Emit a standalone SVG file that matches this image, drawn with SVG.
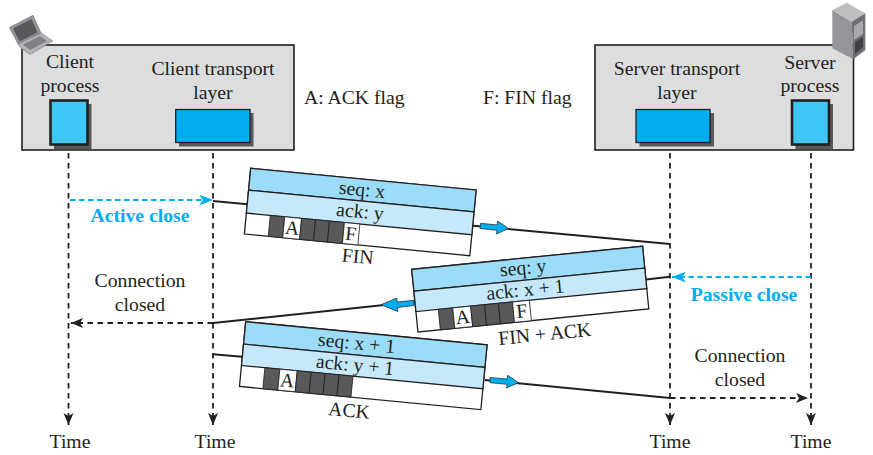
<svg xmlns="http://www.w3.org/2000/svg" width="873" height="455" viewBox="0 0 873 455">
<style>
text{font-family:"Liberation Serif","Times New Roman",serif;font-size:19.7px;fill:#231f20;text-anchor:middle}
.blueT{font-weight:bold;fill:#00aeef}
.start{text-anchor:start}
.box{fill:#dcddde;stroke:#231f20;stroke-width:1.6}
.shadow{fill:#58595b}
.proc{fill:#3ec6f4;stroke:#231f20;stroke-width:2.6}
.trans{fill:#00aeef;stroke:#231f20;stroke-width:1.3}
.seq{fill:#9bdcf8;stroke:#231f20;stroke-width:1.3}
.ack{fill:#c5e9fb;stroke:#231f20;stroke-width:1.3}
.flags{fill:#fff;stroke:#231f20;stroke-width:1.3}
.dark{fill:#58595b;stroke:#231f20;stroke-width:.8}
.cell{fill:#fff;stroke:#231f20;stroke-width:.8}
.dash{fill:none;stroke:#231f20;stroke-width:1.8;stroke-dasharray:5.500 4.500}
.dashB{fill:none;stroke:#00aeef;stroke-width:2.200;stroke-dasharray:5.500 3.500}
.solid{fill:none;stroke:#231f20;stroke-width:1.900}
.fat{fill:#00aeef;stroke:#231f20;stroke-width:.7}
</style>
<defs>
<marker id="ah" markerUnits="userSpaceOnUse" markerWidth="14" markerHeight="12" refX="12" refY="5" orient="auto"><path d="M0 0L12 5L0 10L3 5Z" fill="#231f20"/></marker>
<marker id="ahB" markerUnits="userSpaceOnUse" markerWidth="16" markerHeight="12" refX="14" refY="5.500" orient="auto"><path d="M0 0L14 5.500L0 11L4 5.500Z" fill="#00aeef"/></marker>
</defs>

<g id="client-host">
<rect class="box" x="22" y="45" width="272" height="105"/>
<g id="laptop">
<path d="M9.500 27.500L33 15.300L41 33L18 44Z" fill="#939598" stroke="#6d6e71" stroke-width=".6"/>
<path d="M13 28.500L31.500 19L37.500 32.500L19.500 41.500Z" fill="#58595b"/>
<path d="M18 44L41 33L52.700 41L30 54.500L21 48Z" fill="#b1b3b6" stroke="#6d6e71" stroke-width=".6"/>
<path d="M23 44.500L40 36L47 41L30 50Z" fill="#808285"/>
</g>
<text x="70" y="68">Client</text>
<text x="70" y="92">process</text>
<text x="213" y="75">Client transport</text>
<text x="213" y="99">layer</text>
<rect class="shadow" x="54" y="104" width="37.500" height="45"/>
<rect class="proc" x="50.500" y="100.500" width="37" height="44"/>
<rect class="shadow" x="179" y="113" width="74.500" height="33.500"/>
<rect class="trans" x="175.700" y="109.500" width="74.300" height="33"/>
</g>

<g id="server-host">
<rect class="box" x="595" y="45" width="258.500" height="105"/>
<g id="server">
<path d="M832.300 10L851.700 21.700L853.300 59.300L832.300 48.300Z" fill="#939598"/>
<path d="M832.300 10L846.700 2.700L865.300 13.300L851.700 21.700Z" fill="#bcbec0"/>
<path d="M851.700 21.700L865.300 13.300L865.300 50L853.300 59.300Z" fill="#6d6e71"/>
<path d="M854 26L863 20.500V34L854 40Z" fill="#a7a9ac"/>
<path d="M855 42L863 37V47L855 54Z" fill="#414042"/>
</g>
<text x="677" y="75">Server transport</text>
<text x="677" y="99">layer</text>
<text x="810" y="69">Server</text>
<text x="810" y="92">process</text>
<rect class="shadow" x="639.500" y="113" width="74.500" height="33.500"/>
<rect class="trans" x="636" y="109.500" width="74" height="33"/>
<rect class="shadow" x="795.500" y="104" width="37.500" height="45"/>
<rect class="proc" x="792" y="100.500" width="37" height="44"/>
</g>

<g id="connectors">
<path class="dash" d="M68.500 153V425" marker-end="url(#ah)"/>
<path class="dash" d="M213 153V425" marker-end="url(#ah)"/>
<path class="dash" d="M670 153V425" marker-end="url(#ah)"/>
<path class="dash" d="M811 153V425" marker-end="url(#ah)"/>
<path class="dashB" d="M70 200H213" marker-end="url(#ahB)"/>
<path class="dashB" d="M811 277H672" marker-end="url(#ahB)"/>
<path class="dash" d="M213 323H71" marker-end="url(#ah)"/>
<path class="dash" d="M670 398H808" marker-end="url(#ah)"/>
<path class="solid" d="M213 201L250 204.500"/>
<path class="solid" d="M473 225.700L670 244"/>
<path class="solid" d="M646 279.500L670 276.700"/>
<path class="solid" d="M415 301.700L213 323"/>
<path class="solid" d="M213 354.300L245 357"/>
<path class="solid" d="M485 380L670 398"/>
<path class="fat" d="M480.500 223.300L497 224.900L497.700 221L508.500 228.500L496.500 234L497 230.300L480 228.500Z"/>
<path class="fat" d="M414 300.300L397 302L396.800 298L381 304.700L397.800 311.500L397.500 307.500L414 305.500Z"/>
<path class="fat" d="M490 377.500L507 379L507.700 375.300L518.500 382.700L506.500 388L507 384.300L490 382.700Z"/>
</g>

<g id="segment-fin" transform="translate(250.700 168.300) rotate(5.500)">
<rect class="flags" x="0" y="0" width="226.500" height="66"/>
<rect class="seq" x="0" y="0" width="226.500" height="22"/>
<rect class="ack" x="0" y="22" width="226.500" height="23"/>
<rect class="dark" x="24" y="45" width="14.500" height="21"/>
<rect class="cell" x="38.500" y="45" width="17" height="21"/>
<rect class="dark" x="55.500" y="45" width="14" height="21"/>
<rect class="dark" x="69.500" y="45" width="14" height="21"/>
<rect class="dark" x="83.500" y="45" width="15" height="21"/>
<rect class="cell" x="98.500" y="45" width="15.500" height="21"/>
<text x="113" y="17">seq: x</text>
<text x="113" y="39">ack: y</text>
<text x="47" y="62">A</text>
<text x="106" y="62">F</text>
<text x="115" y="84">FIN</text>
</g>

<g id="segment-fin-ack" transform="translate(411.700 269.300) rotate(-5.700)">
<rect class="flags" x="0" y="0" width="232" height="63"/>
<rect class="seq" x="0" y="0" width="232" height="22"/>
<rect class="ack" x="0" y="22" width="232" height="20.500"/>
<rect class="dark" x="22.500" y="42.500" width="14.500" height="20.500"/>
<rect class="cell" x="37" y="42.500" width="18" height="20.500"/>
<rect class="dark" x="55" y="42.500" width="14" height="20.500"/>
<rect class="dark" x="69" y="42.500" width="14" height="20.500"/>
<rect class="dark" x="83" y="42.500" width="14" height="20.500"/>
<rect class="cell" x="97" y="42.500" width="17" height="20.500"/>
<text x="111" y="16">seq: y</text>
<text x="111" y="38">ack: x + 1</text>
<text x="46" y="59">A</text>
<text x="105.500" y="59">F</text>
<text x="126" y="84">FIN + ACK</text>
</g>

<g id="segment-ack" transform="translate(245.700 321.700) rotate(5.500)">
<rect class="flags" x="0" y="0" width="242.500" height="65"/>
<rect class="seq" x="0" y="0" width="242.500" height="22.500"/>
<rect class="ack" x="0" y="22.500" width="242.500" height="21.500"/>
<rect class="dark" x="23.500" y="44" width="15" height="21"/>
<rect class="cell" x="38.500" y="44" width="17.500" height="21"/>
<rect class="dark" x="56" y="44" width="14" height="21"/>
<rect class="dark" x="70" y="44" width="14" height="21"/>
<rect class="dark" x="84" y="44" width="14" height="21"/>
<rect class="dark" x="98" y="44" width="14" height="21"/>
<text x="112.500" y="17">seq: x + 1</text>
<text x="113" y="39">ack: y + 1</text>
<text x="47" y="61">A</text>
<text x="111.500" y="85">ACK</text>
</g>

<g id="labels">
<text class="start" x="304" y="104">A: ACK flag</text>
<text class="start" x="483" y="104">F: FIN flag</text>
<text class="blueT" x="140" y="222">Active close</text>
<text class="blueT" x="744" y="301">Passive close</text>
<text x="140" y="287">Connection</text>
<text x="140" y="311">closed</text>
<text x="740" y="362">Connection</text>
<text x="740" y="386">closed</text>
<text x="70" y="448">Time</text>
<text x="215" y="448">Time</text>
<text x="670" y="448">Time</text>
<text x="811" y="448">Time</text>
</g>
</svg>
